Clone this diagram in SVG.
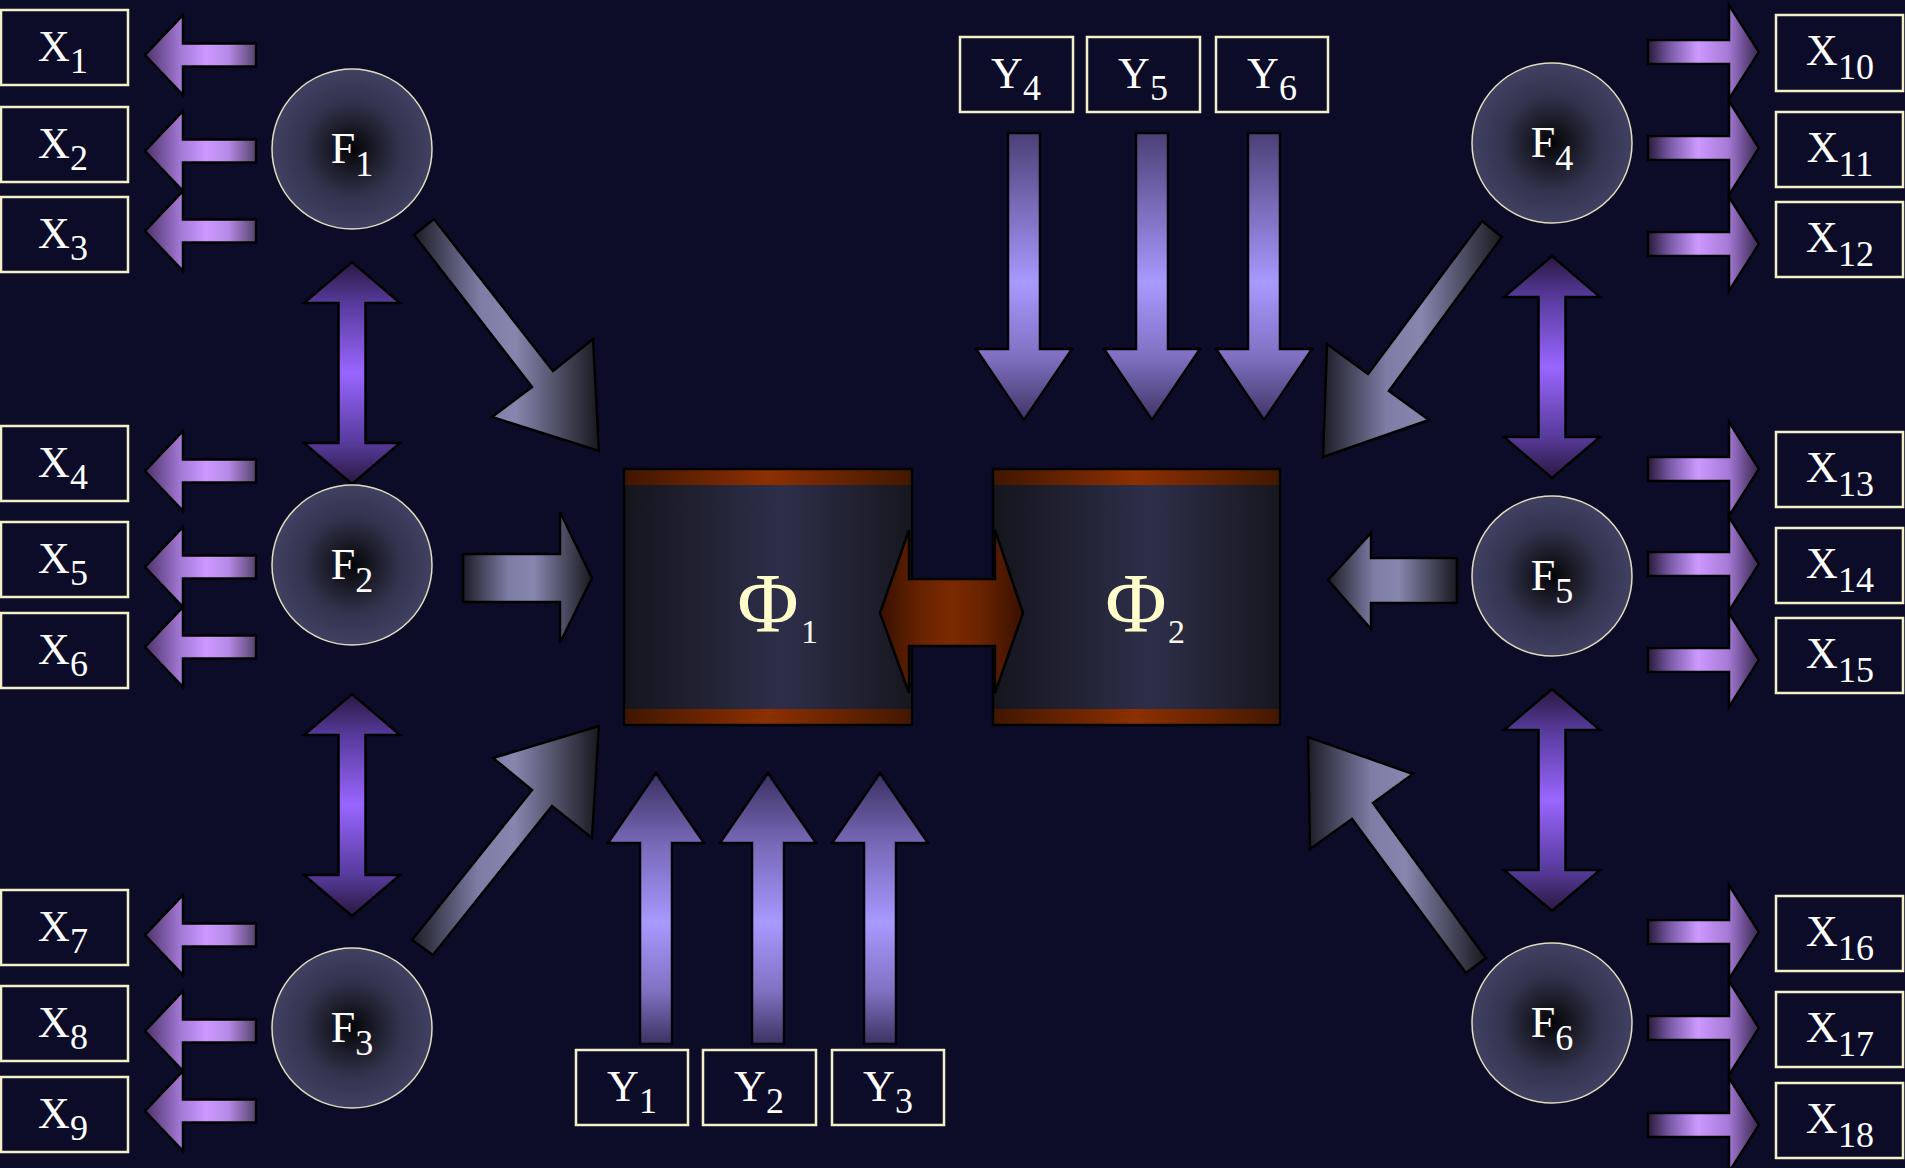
<svg xmlns="http://www.w3.org/2000/svg" xmlns:xlink="http://www.w3.org/1999/xlink" width="1905" height="1168" viewBox="0 0 1905 1168">
<style>
.box{fill:#0c0c29;stroke:#f3efc6;stroke-width:2.5}
.lbl{font-family:"Liberation Serif","Times New Roman",serif;fill:#ffffff;font-size:44px;text-anchor:middle}
.sub{font-size:36px}
.circ{fill:url(#gCirc);stroke:#e2ddbc;stroke-width:1.5}
.ar{stroke:#000;stroke-width:2.5;stroke-linejoin:miter}
.phi{font-family:"Liberation Serif","Times New Roman",serif;fill:#ffffcc;font-size:84px;text-anchor:middle}
.phisub{font-family:"Liberation Serif","Times New Roman",serif;fill:#f8f8ea;font-size:34px}
</style>
<defs>
<linearGradient id="gL" x1="0" y1="0" x2="1" y2="0">
<stop offset="0" stop-color="#4c3468"/><stop offset="0.33" stop-color="#a47ad8"/><stop offset="0.55" stop-color="#cc99ff"/><stop offset="0.75" stop-color="#b68ae6"/><stop offset="1" stop-color="#56426c"/>
</linearGradient>
<linearGradient id="gR" x1="0" y1="0" x2="1" y2="0">
<stop offset="0" stop-color="#2a1a3a"/><stop offset="0.2" stop-color="#7a5aa8"/><stop offset="0.45" stop-color="#cc99ff"/><stop offset="0.72" stop-color="#a67ad6"/><stop offset="1" stop-color="#382650"/>
</linearGradient>
<linearGradient id="gUp" x1="0" y1="0" x2="0" y2="1">
<stop offset="0" stop-color="#3a3060"/><stop offset="0.25" stop-color="#7566b5"/><stop offset="0.55" stop-color="#a899ff"/><stop offset="0.8" stop-color="#8272c4"/><stop offset="1" stop-color="#3c3262"/>
</linearGradient>
<linearGradient id="gDn" x1="0" y1="0" x2="0" y2="1">
<stop offset="0" stop-color="#4a4076"/><stop offset="0.25" stop-color="#7a6ab8"/><stop offset="0.52" stop-color="#a899ff"/><stop offset="0.78" stop-color="#8070c2"/><stop offset="1" stop-color="#3e3464"/>
</linearGradient>
<linearGradient id="gDbl" x1="0" y1="0" x2="0" y2="1">
<stop offset="0" stop-color="#2a1840"/><stop offset="0.18" stop-color="#553a99"/><stop offset="0.5" stop-color="#9966ff"/><stop offset="0.82" stop-color="#553a99"/><stop offset="1" stop-color="#2a1840"/>
</linearGradient>
<linearGradient id="gGrey" x1="0" y1="0" x2="1" y2="0">
<stop offset="0" stop-color="#1c1c26"/><stop offset="0.35" stop-color="#7c7ca4"/><stop offset="0.55" stop-color="#8686ae"/><stop offset="1" stop-color="#18181f"/>
</linearGradient>
<linearGradient id="gBox" x1="0" y1="0" x2="1" y2="0">
<stop offset="0" stop-color="#15151d"/><stop offset="0.55" stop-color="#2e2e4a"/><stop offset="1" stop-color="#17171f"/>
</linearGradient>
<linearGradient id="gBand" x1="0" y1="0" x2="1" y2="0">
<stop offset="0" stop-color="#401600"/><stop offset="0.5" stop-color="#8c3000"/><stop offset="1" stop-color="#421800"/>
</linearGradient>
<linearGradient id="gOr" x1="0" y1="0" x2="1" y2="0">
<stop offset="0" stop-color="#381000"/><stop offset="0.3" stop-color="#6a2400"/><stop offset="0.5" stop-color="#7a2a00"/><stop offset="0.7" stop-color="#6a2400"/><stop offset="1" stop-color="#381000"/>
</linearGradient>
<radialGradient id="gCirc" cx="0.5" cy="0.5" r="0.5">
<stop offset="0" stop-color="#040406"/><stop offset="0.3" stop-color="#1c1c2a"/><stop offset="0.62" stop-color="#34344f"/><stop offset="1" stop-color="#404062"/>
</radialGradient>
<path id="aL" d="M0,0 L38,-40 L38,-11.5 L111,-11.5 L111,11.5 L38,11.5 L38,40 Z"/>
<path id="aR" d="M0,0 L-30,-47 L-30,-12 L-111,-12 L-111,12 L-30,12 L-30,47 Z"/>
<path id="aUp" d="M0,0 L48,70 L16,70 L16,271 L-16,271 L-16,70 L-48,70 Z"/>
<path id="aDn" d="M0,0 L48,-71 L16,-71 L16,-287 L-16,-287 L-16,-71 L-48,-71 Z"/>
<path id="aDbl" d="M0,0 L48,41 L13.5,41 L13.5,181 L48,181 L0,222 L-48,181 L-13.5,181 L-13.5,41 L-48,41 Z"/>
</defs>
<rect width="1905" height="1168" fill="#0c0c29"/>

<g id="connectors">
<g fill="url(#gL)" class="ar">
<use xlink:href="#aL" x="145" y="55"/>
<use xlink:href="#aL" x="145" y="151"/>
<use xlink:href="#aL" x="145" y="231"/>
<use xlink:href="#aL" x="145" y="471"/>
<use xlink:href="#aL" x="145" y="567"/>
<use xlink:href="#aL" x="145" y="647"/>
<use xlink:href="#aL" x="145" y="935"/>
<use xlink:href="#aL" x="145" y="1031"/>
<use xlink:href="#aL" x="145" y="1111"/>
</g>
<g fill="url(#gR)" class="ar">
<use xlink:href="#aR" x="1759" y="52"/>
<use xlink:href="#aR" x="1759" y="148"/>
<use xlink:href="#aR" x="1759" y="244"/>
<use xlink:href="#aR" x="1759" y="469"/>
<use xlink:href="#aR" x="1759" y="564"/>
<use xlink:href="#aR" x="1759" y="660"/>
<use xlink:href="#aR" x="1759" y="932"/>
<use xlink:href="#aR" x="1759" y="1028"/>
<use xlink:href="#aR" x="1759" y="1125"/>
</g>
<g fill="url(#gDbl)" class="ar">
<use xlink:href="#aDbl" x="352" y="262"/>
<use xlink:href="#aDbl" x="352" y="694"/>
<use xlink:href="#aDbl" x="1552" y="256"/>
<use xlink:href="#aDbl" x="1552" y="689"/>
</g>
<g fill="url(#gUp)" class="ar">
<use xlink:href="#aUp" x="656" y="773"/>
<use xlink:href="#aUp" x="768" y="773"/>
<use xlink:href="#aUp" x="880" y="773"/>
</g>
<g fill="url(#gDn)" class="ar">
<use xlink:href="#aDn" x="1024" y="420"/>
<use xlink:href="#aDn" x="1152" y="420"/>
<use xlink:href="#aDn" x="1264" y="420"/>
</g>
<g fill="url(#gGrey)" class="ar">
<polygon points="414,235 434,219 553,371 593,339 599,451 492,417 532,387"/>
<polygon points="412,940 532,790 493,758 599,726 592,838 552,806 433,955"/>
<polygon points="1482,221 1368,374 1327,344 1323,457 1429,420 1389,391 1502,237"/>
<polygon points="1466,973 1352,819 1310,849 1308,737 1413,774 1373,803 1486,958"/>
<polygon points="463,554 560,554 560,512 592,578 560,643 560,602 463,602"/>
<polygon points="1457,558 1371,558 1371,533 1328,580 1371,629 1371,603 1457,603"/>
</g>
</g>

<g id="phi1">
<rect x="624" y="469" width="288" height="256" fill="url(#gBox)"/>
<rect x="624" y="469" width="288" height="16" fill="url(#gBand)"/>
<rect x="624" y="709" width="288" height="16" fill="url(#gBand)"/>
<rect x="624" y="469" width="288" height="256" fill="none" stroke="#000" stroke-width="2.5"/>
<text class="phi" x="768" y="632">Φ</text>
<text class="phisub" x="801" y="643">1</text>
</g>
<g id="phi2">
<rect x="993" y="469" width="287" height="256" fill="url(#gBox)"/>
<rect x="993" y="469" width="287" height="16" fill="url(#gBand)"/>
<rect x="993" y="709" width="287" height="16" fill="url(#gBand)"/>
<rect x="993" y="469" width="287" height="256" fill="none" stroke="#000" stroke-width="2.5"/>
<text class="phi" x="1136" y="632">Φ</text>
<text class="phisub" x="1168" y="643">2</text>
</g>
<g id="link-phi">
<polygon class="ar" fill="url(#gOr)" points="880,613 909,530 909,579 995,579 995,530 1023,613 995,693 995,646 909,646 909,693"/>
</g>

<g id="F1"><circle class="circ" cx="352" cy="149" r="80"/><text class="lbl" x="352" y="163" font-size="42">F<tspan class="sub" dy="13">1</tspan></text></g>
<g id="F2"><circle class="circ" cx="352" cy="565" r="80"/><text class="lbl" x="352" y="579">F<tspan class="sub" dy="13">2</tspan></text></g>
<g id="F3"><circle class="circ" cx="352" cy="1028" r="80"/><text class="lbl" x="352" y="1042">F<tspan class="sub" dy="13">3</tspan></text></g>
<g id="F4"><circle class="circ" cx="1552" cy="143" r="80"/><text class="lbl" x="1552" y="157">F<tspan class="sub" dy="13">4</tspan></text></g>
<g id="F5"><circle class="circ" cx="1552" cy="576" r="80"/><text class="lbl" x="1552" y="590">F<tspan class="sub" dy="13">5</tspan></text></g>
<g id="F6"><circle class="circ" cx="1552" cy="1023" r="80"/><text class="lbl" x="1552" y="1037">F<tspan class="sub" dy="13">6</tspan></text></g>

<g id="X1"><rect class="box" x="1" y="10" width="127" height="75"/><text class="lbl" x="63" y="61">X<tspan class="sub" dy="12">1</tspan></text></g>
<g id="X2"><rect class="box" x="1" y="107" width="127" height="75"/><text class="lbl" x="63" y="158">X<tspan class="sub" dy="12">2</tspan></text></g>
<g id="X3"><rect class="box" x="1" y="197" width="127" height="75"/><text class="lbl" x="63" y="248">X<tspan class="sub" dy="12">3</tspan></text></g>
<g id="X4"><rect class="box" x="1" y="426" width="127" height="75"/><text class="lbl" x="63" y="477">X<tspan class="sub" dy="12">4</tspan></text></g>
<g id="X5"><rect class="box" x="1" y="522" width="127" height="75"/><text class="lbl" x="63" y="573">X<tspan class="sub" dy="12">5</tspan></text></g>
<g id="X6"><rect class="box" x="1" y="613" width="127" height="75"/><text class="lbl" x="63" y="664">X<tspan class="sub" dy="12">6</tspan></text></g>
<g id="X7"><rect class="box" x="1" y="890" width="127" height="75"/><text class="lbl" x="63" y="941">X<tspan class="sub" dy="12">7</tspan></text></g>
<g id="X8"><rect class="box" x="1" y="986" width="127" height="75"/><text class="lbl" x="63" y="1037">X<tspan class="sub" dy="12">8</tspan></text></g>
<g id="X9"><rect class="box" x="1" y="1077" width="127" height="75"/><text class="lbl" x="63" y="1128">X<tspan class="sub" dy="12">9</tspan></text></g>

<g id="X10"><rect class="box" x="1776" y="15" width="127" height="76"/><text class="lbl" x="1840" y="65">X<tspan class="sub" dy="14">10</tspan></text></g>
<g id="X11"><rect class="box" x="1776" y="112" width="127" height="75"/><text class="lbl" x="1840" y="162">X<tspan class="sub" dy="14">11</tspan></text></g>
<g id="X12"><rect class="box" x="1776" y="202" width="127" height="75"/><text class="lbl" x="1840" y="252">X<tspan class="sub" dy="14">12</tspan></text></g>
<g id="X13"><rect class="box" x="1776" y="432" width="127" height="75"/><text class="lbl" x="1840" y="482">X<tspan class="sub" dy="14">13</tspan></text></g>
<g id="X14"><rect class="box" x="1776" y="528" width="127" height="75"/><text class="lbl" x="1840" y="578">X<tspan class="sub" dy="14">14</tspan></text></g>
<g id="X15"><rect class="box" x="1776" y="618" width="127" height="75"/><text class="lbl" x="1840" y="668">X<tspan class="sub" dy="14">15</tspan></text></g>
<g id="X16"><rect class="box" x="1776" y="896" width="127" height="75"/><text class="lbl" x="1840" y="946">X<tspan class="sub" dy="14">16</tspan></text></g>
<g id="X17"><rect class="box" x="1776" y="992" width="127" height="75"/><text class="lbl" x="1840" y="1042">X<tspan class="sub" dy="14">17</tspan></text></g>
<g id="X18"><rect class="box" x="1776" y="1083" width="127" height="75"/><text class="lbl" x="1840" y="1133">X<tspan class="sub" dy="14">18</tspan></text></g>

<g id="Y1"><rect class="box" x="576" y="1050" width="112" height="75"/><text class="lbl" x="632" y="1101">Y<tspan class="sub" dy="12">1</tspan></text></g>
<g id="Y2"><rect class="box" x="703" y="1050" width="113" height="75"/><text class="lbl" x="759" y="1101">Y<tspan class="sub" dy="12">2</tspan></text></g>
<g id="Y3"><rect class="box" x="832" y="1050" width="112" height="75"/><text class="lbl" x="888" y="1101">Y<tspan class="sub" dy="12">3</tspan></text></g>
<g id="Y4"><rect class="box" x="960" y="37" width="113" height="75"/><text class="lbl" x="1016" y="88">Y<tspan class="sub" dy="12">4</tspan></text></g>
<g id="Y5"><rect class="box" x="1087" y="37" width="113" height="75"/><text class="lbl" x="1143" y="88">Y<tspan class="sub" dy="12">5</tspan></text></g>
<g id="Y6"><rect class="box" x="1216" y="37" width="112" height="75"/><text class="lbl" x="1272" y="88">Y<tspan class="sub" dy="12">6</tspan></text></g>
</svg>
